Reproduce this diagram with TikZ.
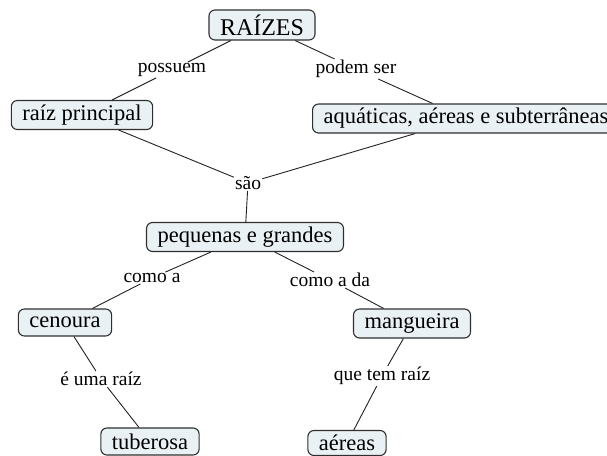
\documentclass[tikz,border=0pt]{standalone}
\usepackage{fontspec}
\setmainfont{Liberation Serif}
\usepackage{tikz}
\usetikzlibrary{positioning}
\definecolor{fondoMapa}{HTML}{EAF1F4}
\definecolor{bordeMapa}{HTML}{2F2F2F}
\definecolor{lineaMapa}{HTML}{222222}

\begin{document}
\begin{tikzpicture}[x=1pt, y=-1pt, font=\fontsize{22.5}{25}\selectfont,
        concepto/.style={draw=bordeMapa, fill=fondoMapa, rounded corners=6pt, line width=1.1pt,
            minimum height=29pt, inner xsep=11pt, inner ysep=2pt},
        enlace/.style={inner sep=1pt, font=\fontsize{19.5}{21}\selectfont},
        linea/.style={lineaMapa, line width=0.9pt}]
        \useasboundingbox (0,0) rectangle (607,455);
        \node[concepto, font=\fontsize{24}{27}\selectfont, minimum height=30pt] (raices) at (262,25) {RAÍZES};
        \node[enlace] (possuem) at (172,70) {possuem};
        \node[enlace] (podem) at (356,69) {podem ser};
        \node[concepto] (principal) at (82,115) {raíz principal};
        \node[concepto, anchor=west] (tipos) at (312,118.5) {aquáticas, aéreas e subterrâneas};
        \node[enlace] (sao) at (248,183) {são};
        \node[concepto] (tamanhos) at (245,237) {pequenas e grandes};
        \node[enlace] (comoa) at (152,278) {como a};
        \node[enlace] (comoada) at (330,280) {como a da};
        \node[concepto, minimum height=27pt] (cenoura) at (65,322.5) {cenoura};
        \node[concepto] (mangueira) at (412,323.5) {mangueira};
        \node[enlace] (umaraiz) at (101,379) {é uma raíz};
        \node[enlace] (temraiz) at (382,376) {que tem raíz};
        \node[concepto, minimum height=27pt] (tuberosa) at (150,441.5) {tuberosa};
        \node[concepto, minimum height=25pt] (aereas) at (347,443) {aéreas};
        \foreach \a/\b in {raices/possuem, possuem/principal, raices/podem, podem/tipos,
                principal/sao, tipos/sao, sao/tamanhos, tamanhos/comoa, comoa/cenoura,
                tamanhos/comoada, comoada/mangueira, cenoura/umaraiz, umaraiz/tuberosa,
                mangueira/temraiz, temraiz/aereas}
            \draw[linea] (\a) -- (\b);
    \end{tikzpicture}
\end{document}
